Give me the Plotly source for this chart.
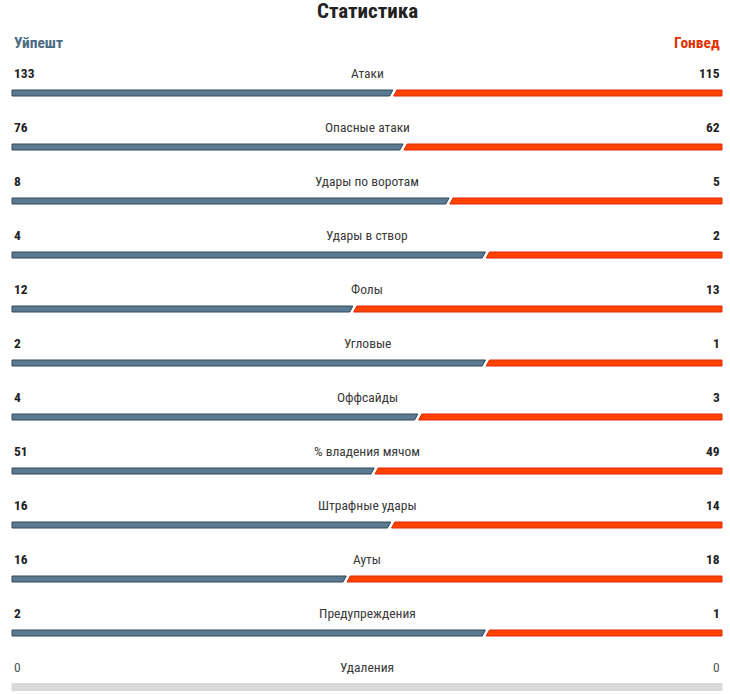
import plotly.graph_objects as go

title = "Статистика"
team_home = "Уйпешт"
team_away = "Гонвед"
stat_labels = ["Атаки", "Опасные атаки", "Удары по воротам", "Удары в створ", "Фолы",
               "Угловые", "Оффсайды", "% владения мячом", "Штрафные удары", "Ауты",
               "Предупреждения", "Удаления"]
home_values = [133, 76, 8, 4, 12, 2, 4, 51, 16, 16, 2, 0]
away_values = [115, 62, 5, 2, 13, 1, 3, 49, 14, 18, 1, 0]

W, H = 730, 694
X0, X1 = 12, 722
ROW0_TEXT, ROW_STEP, BAR_OFF, BAR_H = 72.5, 54, 20.5, 6
HOME_FILL, HOME_LINE = "#5b7a91", "#2f495c"
AWAY_FILL, AWAY_LINE = "#ff4200", "#e02a00"
FONT = "Roboto Condensed, Liberation Sans Narrow, DejaVu Sans Condensed, Roboto, sans-serif"

fig = go.Figure()
ann = []

ann.append(dict(x=(X0 + X1) / 2, y=10.5, text=f"<b>{title}</b>", showarrow=False,
                font=dict(size=21, color="#222", family=FONT), xanchor="center", yanchor="middle"))
ann.append(dict(x=X0, y=43, text=f"<b>{team_home}</b>", showarrow=False,
                font=dict(size=15.5, color="#4a6a82", family=FONT), xanchor="left", yanchor="middle"))
ann.append(dict(x=X1, y=43, text=f"<b>{team_away}</b>", showarrow=False,
                font=dict(size=15.5, color="#e03200", family=FONT), xanchor="right", yanchor="middle"))

for i, (lab, hv, av) in enumerate(zip(stat_labels, home_values, away_values)):
    ty = ROW0_TEXT + i * ROW_STEP
    by = ty + BAR_OFF
    top, bot = by - BAR_H / 2, by + BAR_H / 2
    total = hv + av
    vfmt = (lambda v: f"<b>{v}</b>") if total else (lambda v: f"{v}")
    vcol = "#222" if total else "#555"
    ann.append(dict(x=X0, y=ty, text=vfmt(hv), showarrow=False,
                    font=dict(size=13.5, color=vcol, family=FONT), xanchor="left", yanchor="middle"))
    ann.append(dict(x=X1, y=ty, text=vfmt(av), showarrow=False,
                    font=dict(size=13.5, color=vcol, family=FONT), xanchor="right", yanchor="middle"))
    ann.append(dict(x=(X0 + X1) / 2, y=ty, text=lab, showarrow=False,
                    font=dict(size=13.5, color="#3a3a3a", family=FONT), xanchor="center", yanchor="middle"))
    if total == 0:
        fig.add_trace(go.Scatter(x=[X0, X1, X1, X0, X0], y=[top - 0.5, top - 0.5, bot + 0.5, bot + 0.5, top - 0.5],
                                 fill="toself", fillcolor="#d9d9dc", mode="lines",
                                 line=dict(color="#d9d9dc", width=1), hoverinfo="skip", showlegend=False))
        continue
    s = X0 + hv / total * (X1 - X0)
    lx = s - 1.5
    rx = s + 2.5
    sl = 1.6
    fig.add_trace(go.Scatter(x=[X0, lx + sl, lx - sl, X0, X0], y=[top, top, bot, bot, top],
                             fill="toself", fillcolor=HOME_FILL, mode="lines",
                             line=dict(color=HOME_LINE, width=1), hoverinfo="skip", showlegend=False))
    fig.add_trace(go.Scatter(x=[rx + sl, X1, X1, rx - sl, rx + sl], y=[top, top, bot, bot, top],
                             fill="toself", fillcolor=AWAY_FILL, mode="lines",
                             line=dict(color=AWAY_LINE, width=1), hoverinfo="skip", showlegend=False))

fig.update_layout(
    width=W, height=H, margin=dict(l=0, r=0, t=0, b=0),
    paper_bgcolor="white", plot_bgcolor="white",
    xaxis=dict(range=[0, W], visible=False, fixedrange=True),
    yaxis=dict(range=[H, 0], visible=False, fixedrange=True),
    annotations=ann, showlegend=False,
)
fig.write_html("out.html", config={"displayModeBar": False},
               post_script="document.body.style.margin='0';document.body.style.overflow='hidden';")
